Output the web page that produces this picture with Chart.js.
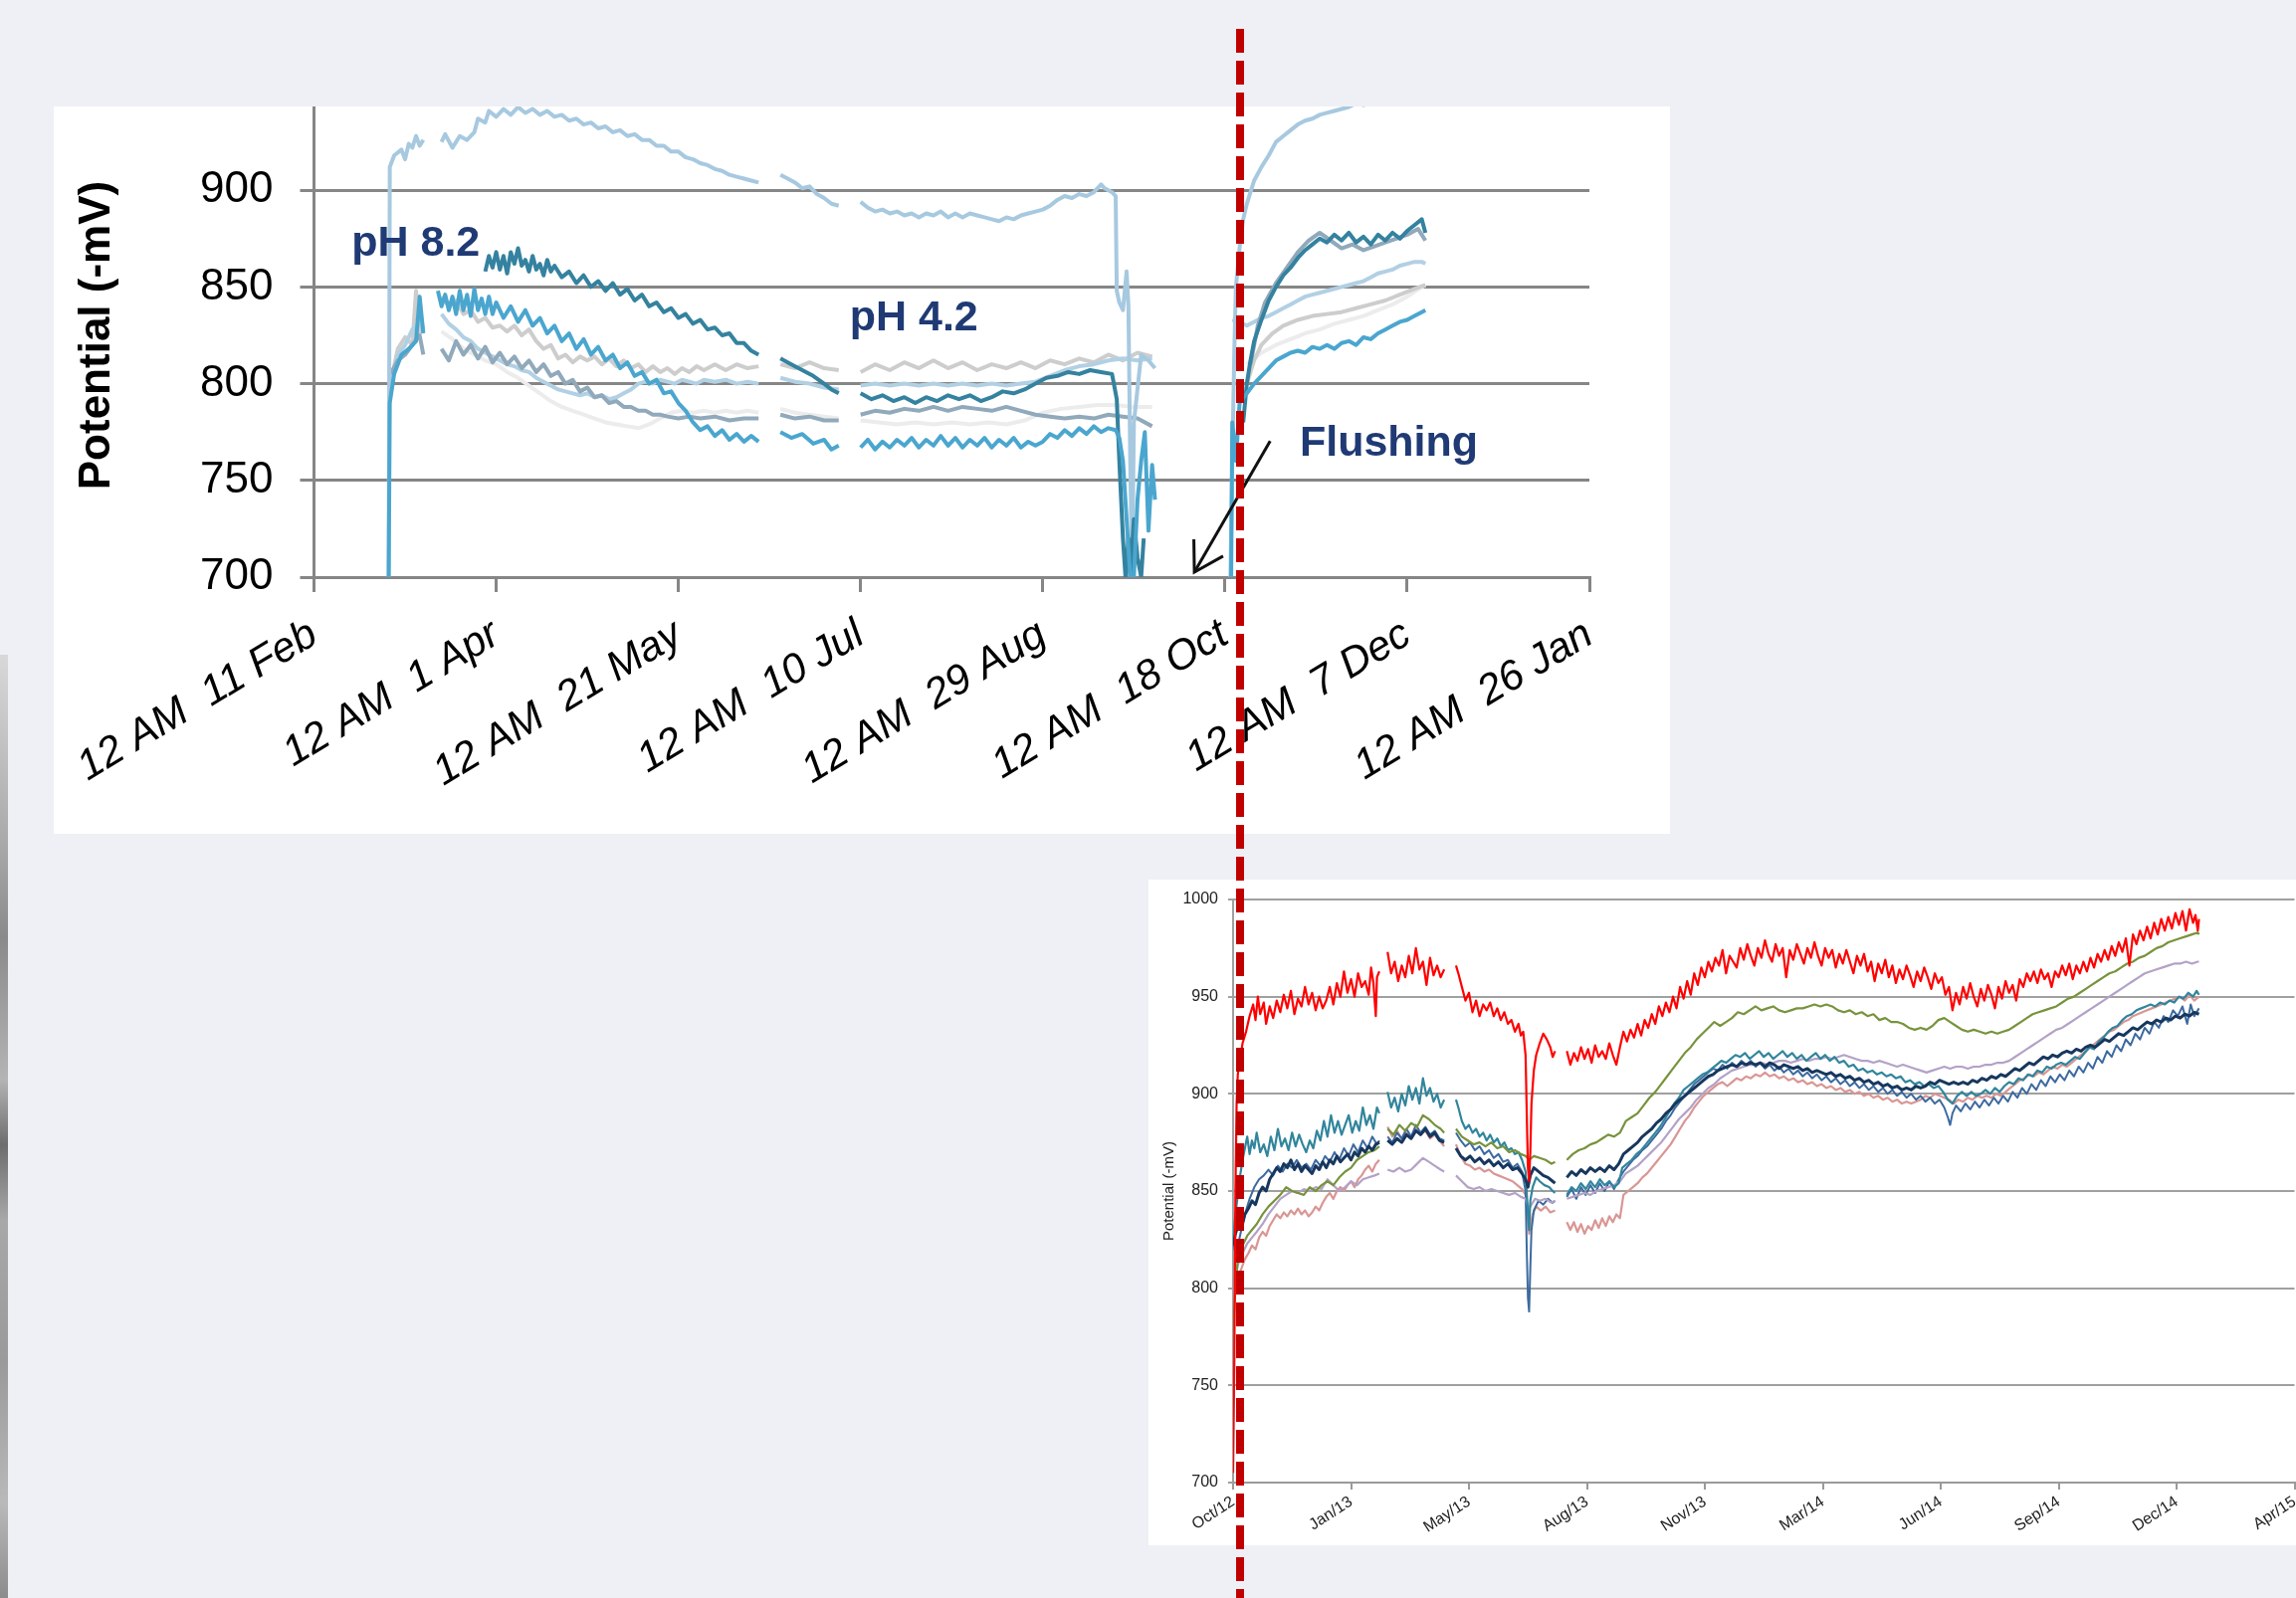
<!DOCTYPE html>
<html><head><meta charset="utf-8">
<script src="https://cdn.jsdelivr.net/npm/chart.js@4.4.1/dist/chart.umd.min.js"></script>
<style>
html,body{margin:0;padding:0;width:2307px;height:1606px;overflow:hidden;background:#eff0f5;}
#topBox{position:absolute;left:54px;top:107px;width:1624px;height:731px;background:#fff;overflow:hidden;}
#topC{position:absolute;left:0;top:-62px;}
#botBox{position:absolute;left:1154px;top:884px;width:1246px;height:669px;background:#fff;}
#strip{position:absolute;left:0;top:658px;width:8px;height:948px;background:linear-gradient(to bottom,#d8d8d8 0%,#a9a9a9 20%,#8a8a8a 30%,#b4b4b4 45%,#6d6d6d 52%,#a8a8a8 60%,#9a9a9a 75%,#b9b9b9 90%,#8c8c8c 100%);}
#dash{position:absolute;left:1242px;top:29px;width:8px;height:1577px;background:repeating-linear-gradient(to bottom,#c00000 0px,#c00000 24px,rgba(0,0,0,0) 24px,rgba(0,0,0,0) 32px);}
</style></head>
<body>
<div id="strip"></div>
<div id="topBox"><canvas id="topC" width="1624" height="794"></canvas></div>
<div id="botBox"><canvas id="botC" width="1246" height="669"></canvas></div>
<div id="dash"></div>
<script>
// ---------------- TOP CHART (2012, days since 11 Feb) ----------------
const topTickDays = [0,50,100,150,200,250,300,350];
const topTickLabels = ['12 AM  11 Feb','12 AM  1 Apr','12 AM  21 May','12 AM  10 Jul','12 AM  29 Aug','12 AM  18 Oct','12 AM  7 Dec','12 AM  26 Jan'];
const topYTicks = [700,750,800,850,900,950];

const topA = [20.5,700, 20.8,912, 22,918, 24,921, 25,916, 26,924, 27,922, 28,928, 29,923, 30,926, 31,null,
 35,925, 36,929, 38,922, 40,928, 42,926, 44,930, 45,937, 47,935, 48,941, 50,938, 52,942, 54,939, 56,943, 58,940, 60,942, 62,939, 64,941, 66,938, 68,939, 70,936, 72,937, 74,934, 76,935, 78,932, 80,933, 82,930, 84,931, 86,928, 88,929, 90,926, 92,926, 94,923, 96,923, 98,920, 100,920, 102,917, 104,916, 106,914, 108,913, 110,911, 112,910, 114,908, 116,907, 118,906, 120,905, 122,904, 123,null,
 128,908, 130,906, 132,904, 134,901, 136,902, 138,898, 140,896, 142,893, 144,892, 145,null,
 150,894, 152,891, 154,889, 156,890, 158,888, 160,889, 162,887, 164,888, 166,886, 168,888, 170,887, 172,889, 174,886, 176,888, 178,886, 180,888, 182,887, 184,886, 186,885, 188,884, 190,886, 192,885, 194,887, 196,888, 198,889, 200,890, 202,892, 204,895, 206,897, 208,896, 210,898, 212,897, 214,899, 216,903, 217,901, 218,900, 219,899, 220,897, 220.3,848, 221,842, 222,838, 223,858, 223.5,840, 224,760, 224.5,700, 225,780, 227,815, 229,812, 230.8,808, 231,null,
 251.5,700, 252,760, 252.6,820, 253,850, 254,870, 255,885, 256,893, 257,899, 258,905, 260,912, 262,918, 264,925, 266,928, 268,931, 270,934, 272,936, 274,937, 276,939, 278,940, 280,941, 282,942, 284,943, 286,945, 288,944, 290,946, 292,945, 294,947, 296,946, 298,948, 300,947, 302,948, 304,947, 305,946];
const topB = [47,858, 48,866, 49,860, 50,868, 51,859, 52,866, 53,857, 54,868, 55,862, 56,870, 57,861, 58,864, 59,858, 60,866, 61,859, 62,862, 63,856, 64,864, 65,858, 66,861, 68,855, 70,858, 72,852, 74,856, 76,850, 78,853, 80,848, 82,852, 84,846, 86,849, 88,843, 90,846, 92,840, 94,842, 96,837, 98,839, 100,834, 102,836, 104,831, 106,833, 108,828, 110,829, 112,825, 114,826, 116,821, 118,821, 120,817, 122,815, 123,null,
 128,813, 131,810, 134,807, 137,804, 140,800, 142,797, 144,795, 145,null,
 150,795, 153,792, 156,794, 159,791, 162,793, 165,790, 168,793, 171,791, 174,794, 177,792, 180,794, 183,791, 186,793, 189,796, 192,795, 195,797, 198,800, 201,803, 204,804, 207,806, 210,805, 213,807, 216,806, 219,805, 220.3,792, 221,760, 222,720, 222.7,700, 223.5,720, 224,700, 225,730, 226,710, 227,700, 227.7,720, 228,null,
 255,780, 256,800, 257,812, 258,822, 260,833, 262,843, 264,850, 266,856, 268,860, 270,865, 272,869, 274,872, 276,875, 278,873, 280,877, 282,874, 284,878, 286,873, 288,876, 290,872, 292,877, 294,874, 296,878, 298,875, 300,879, 302,882, 304,885, 305,878];
const topC = [20.5,700, 20.8,790, 22,805, 24,815, 26,818, 28,822, 29,845, 30,826, 31,null,
 34,848, 35,840, 36,846, 37,838, 38,845, 39,836, 40,848, 41,838, 42,846, 43,835, 44,849, 45,838, 46,844, 47,836, 48,845, 49,836, 50,842, 52,834, 54,840, 56,832, 58,838, 60,830, 62,834, 64,826, 66,830, 68,822, 70,826, 72,818, 74,823, 76,815, 78,819, 80,812, 82,815, 84,808, 86,811, 88,804, 90,806, 92,800, 94,802, 96,795, 98,796, 100,790, 102,786, 104,780, 106,776, 108,778, 110,773, 112,776, 114,771, 116,774, 118,770, 120,773, 122,770, 123,null,
 128,775, 131,772, 134,774, 137,769, 140,771, 142,766, 144,768, 145,null,
 150,767, 152,771, 154,766, 156,770, 158,767, 160,771, 162,768, 164,772, 166,767, 168,771, 170,768, 172,773, 174,768, 176,772, 178,767, 180,771, 182,768, 184,772, 186,767, 188,771, 190,768, 192,772, 194,767, 196,770, 198,768, 200,770, 202,774, 204,772, 206,776, 208,773, 210,777, 212,774, 214,778, 216,775, 218,777, 220,776, 221,772, 222,760, 223,730, 224,700, 225,700, 226,740, 227,760, 228,775, 229,724, 230,758, 230.8,740, 231,null,
 251.7,700, 252,780, 253,760, 254,790, 256,795, 258,800, 260,804, 262,808, 264,812, 266,814, 268,816, 270,817, 272,816, 274,819, 276,818, 278,820, 280,818, 282,821, 284,822, 286,820, 288,824, 290,823, 292,826, 294,828, 296,830, 298,832, 300,833, 302,835, 304,837, 305,838];
const topD = [21,800, 23,818, 25,824, 27,820, 28,848, 29,826, 30,830, 31,null,
 35,845, 37,840, 39,843, 41,836, 43,838, 45,832, 47,834, 49,829, 51,830, 53,827, 55,830, 57,825, 59,828, 61,822, 63,818, 65,820, 67,813, 69,815, 71,811, 73,814, 75,812, 77,814, 79,810, 81,813, 83,809, 85,812, 87,808, 89,810, 91,806, 93,809, 95,806, 97,808, 99,805, 101,808, 103,806, 105,809, 107,807, 110,810, 113,807, 116,810, 119,808, 122,809, 123,null,
 128,810, 132,808, 136,811, 140,808, 144,807, 145,null,
 150,806, 154,810, 158,807, 162,811, 166,808, 170,812, 174,808, 178,811, 182,807, 186,810, 190,808, 194,811, 198,808, 202,812, 206,810, 210,813, 214,811, 218,815, 222,812, 226,816, 230,814, 231,null,
 256,800, 258,812, 260,820, 263,826, 266,830, 270,833, 274,835, 278,836, 282,837, 286,839, 290,841, 294,843, 298,846, 302,849, 305,851];
const topE = [21,805, 23,812, 25,815, 27,820, 29,825, 30,815, 31,null,
 35,818, 37,812, 39,822, 41,815, 43,820, 45,813, 47,819, 49,811, 51,816, 53,810, 55,814, 57,808, 59,812, 61,806, 63,810, 65,804, 67,806, 69,800, 71,802, 73,796, 75,798, 77,793, 79,794, 81,790, 83,791, 85,788, 87,788, 89,786, 91,786, 93,784, 95,784, 97,783, 100,782, 103,783, 106,782, 110,783, 114,781, 118,782, 122,782, 123,null,
 128,784, 132,782, 136,783, 140,781, 144,781, 145,null,
 150,784, 154,786, 158,785, 162,787, 166,786, 170,788, 174,786, 178,788, 182,787, 186,786, 190,788, 194,786, 198,784, 202,783, 206,782, 210,783, 214,782, 218,784, 222,783, 226,782, 230,778, 231,null,
 257,810, 259,830, 261,842, 264,852, 267,860, 270,868, 273,874, 276,878, 279,874, 282,870, 285,872, 288,869, 291,871, 294,873, 297,875, 300,877, 303,880, 305,874];
const topF = [21,798, 23,815, 25,820, 27,828, 29,832, 30,830, 31,null,
 35,836, 37,831, 39,828, 41,824, 43,822, 45,818, 47,816, 49,814, 51,812, 53,810, 55,809, 57,807, 59,806, 61,803, 63,801, 65,799, 67,797, 69,796, 71,795, 73,794, 75,795, 77,793, 79,794, 81,792, 83,793, 85,795, 87,797, 89,800, 91,801, 93,800, 95,802, 97,801, 99,800, 101,802, 103,801, 105,800, 107,802, 110,801, 113,802, 116,800, 119,801, 122,800, 123,null,
 128,803, 132,801, 136,800, 140,798, 144,797, 145,null,
 150,799, 154,800, 158,799, 162,800, 166,799, 170,800, 174,799, 178,800, 182,799, 186,800, 190,799, 194,800, 198,801, 202,804, 206,807, 210,809, 214,810, 218,812, 222,813, 226,812, 230,813, 231,null,
 252,833, 254,832, 256,830, 258,832, 260,834, 262,835, 264,837, 266,839, 268,841, 270,843, 272,845, 274,846, 276,847, 278,848, 280,849, 282,850, 284,851, 286,852, 288,853, 290,855, 292,857, 294,858, 296,859, 298,861, 300,862, 302,863, 304,863, 305,862];
const topG = [35,827, 38,823, 41,818, 44,815, 47,812, 50,810, 53,806, 56,803, 59,799, 62,795, 65,791, 68,788, 71,786, 74,784, 77,782, 80,780, 83,779, 86,778, 89,777, 92,779, 95,782, 98,785, 101,786, 104,785, 107,786, 110,785, 113,786, 116,785, 119,786, 122,785, 123,null,
 128,787, 132,785, 136,784, 140,783, 144,782, 145,null,
 150,781, 155,780, 160,779, 165,780, 170,779, 175,780, 180,779, 185,780, 190,779, 195,781, 200,785, 205,787, 210,788, 215,789, 220,789, 225,788, 230,788, 231,null,
 256,810, 260,816, 264,820, 268,823, 272,826, 276,828, 280,831, 284,833, 288,835, 292,838, 296,841, 300,845, 304,850, 305,851];

const topNotes = [
  {text:'pH 8.2', day:10.3, mv:866},
  {text:'pH 4.2', day:147, mv:827.5},
  {text:'Flushing', day:270.5, mv:762.7}
];
const arrowTail = {day:262.4, mv:770.4};
const arrowTip = {day:241.6, mv:702.6};

// ---------------- BOTTOM CHART (days since mid-Oct 2012) ----------------
const botTickDays = [0,100,200,300,400,500,600,700,800,900];
const botTickLabels = ['Oct/12','Jan/13','May/13','Aug/13','Nov/13','Mar/14','Jun/14','Sep/14','Dec/14','Apr/15'];
const botYTicks = [700,750,800,850,900,950,1000];

const redPts = [0,705, 1,760, 2,850, 3,895, 4,910, 6,918, 8,926, 11,932, 14,940, 17,946, 19,938, 21,950, 23,941, 26,947, 28,936, 31,945, 34,939, 37,948, 40,942, 43,951, 46,944, 49,953, 52,941, 55,949, 58,945, 61,955, 64,946, 67,952, 70,943, 73,950, 76,944, 79,948, 82,955, 85,946, 88,957, 91,950, 94,963, 97,952, 100,959, 103,950, 106,962, 109,955, 112,958, 115,951, 117,965, 119,957, 121,940, 122,960, 124,963, 125,null,
 131,973, 134,962, 137,968, 140,958, 143,966, 146,960, 149,971, 152,962, 155,975, 158,964, 161,968, 164,956, 167,970, 170,961, 173,966, 176,960, 179,964, 181,null,
 189,966, 191,962, 194,955, 197,948, 200,952, 203,942, 206,948, 209,940, 212,946, 215,943, 218,947, 221,940, 224,944, 227,938, 230,942, 233,936, 236,938, 239,932, 242,936, 244,930, 246,932, 248,920, 249,890, 250,862, 251,855, 252,870, 253,895, 255,912, 257,920, 260,926, 263,931, 266,928, 269,924, 271,919, 273,922, 274,null,
 283,922, 286,915, 289,921, 292,917, 295,924, 298,918, 301,923, 304,916, 307,925, 310,919, 313,922, 316,918, 319,926, 322,920, 325,915, 328,924, 331,932, 334,927, 337,933, 340,929, 343,936, 346,930, 349,938, 352,934, 355,941, 358,936, 361,945, 364,940, 367,947, 370,942, 373,950, 376,944, 379,955, 382,949, 385,958, 388,951, 391,962, 394,956, 397,965, 400,960, 403,968, 406,963, 409,970, 412,966, 415,974, 418,962, 421,971, 424,968, 427,965, 430,975, 433,969, 436,977, 439,971, 442,966, 445,975, 448,970, 451,979, 454,972, 457,968, 460,977, 463,971, 466,975, 469,960, 472,974, 475,969, 478,977, 481,972, 484,967, 487,975, 490,970, 493,978, 496,971, 499,966, 502,975, 505,970, 508,974, 511,965, 514,972, 517,967, 520,974, 523,968, 526,962, 529,971, 532,966, 535,972, 538,963, 541,968, 544,958, 547,967, 550,962, 553,969, 556,960, 559,966, 562,957, 565,964, 568,959, 571,966, 574,961, 577,955, 580,963, 583,958, 586,965, 589,960, 592,954, 595,962, 598,957, 601,960, 604,951, 607,955, 610,943, 613,952, 616,946, 619,955, 622,949, 625,957, 628,950, 631,945, 634,954, 637,948, 640,956, 643,951, 646,944, 649,955, 652,949, 655,958, 658,952, 661,956, 664,948, 667,959, 670,955, 673,962, 676,958, 679,963, 682,957, 685,964, 688,959, 691,962, 694,955, 697,963, 700,960, 703,966, 706,961, 709,967, 712,959, 715,966, 718,962, 721,968, 724,963, 727,970, 730,965, 733,972, 736,968, 739,974, 742,969, 745,976, 748,971, 751,978, 754,973, 757,980, 760,966, 763,982, 766,977, 769,984, 772,979, 775,986, 778,980, 781,988, 784,982, 787,990, 790,984, 793,991, 796,985, 799,993, 802,987, 805,994, 808,984, 811,995, 814,988, 816,992, 818,984, 819,990];
const greenPts = [0,778, 2,800, 4,815, 8,822, 12,827, 16,830, 20,833, 25,838, 30,842, 35,845, 40,848, 45,852, 50,850, 55,849, 60,848, 65,852, 70,850, 75,853, 80,855, 85,853, 90,857, 95,860, 100,862, 105,866, 110,868, 115,870, 120,871, 124,873, 125,null,
 131,882, 136,879, 141,884, 146,881, 151,885, 156,883, 161,889, 166,887, 171,884, 176,882, 179,880, 181,null,
 189,882, 194,878, 199,876, 204,874, 209,875, 214,873, 219,875, 224,872, 229,873, 234,870, 239,871, 244,869, 248,868, 251,866, 255,868, 260,867, 265,866, 270,864, 273,865, 274,null,
 283,866, 288,869, 293,871, 298,872, 303,874, 308,875, 313,877, 318,879, 323,878, 328,880, 333,886, 338,888, 343,890, 348,894, 353,898, 358,901, 363,905, 368,909, 373,913, 378,917, 383,921, 388,924, 393,928, 398,931, 403,934, 408,937, 413,935, 418,937, 423,939, 428,942, 433,941, 438,943, 443,945, 448,943, 453,944, 458,945, 463,943, 468,942, 473,943, 478,944, 483,944, 488,945, 493,946, 498,945, 503,946, 508,945, 513,943, 518,942, 523,943, 528,941, 533,942, 538,940, 543,941, 548,938, 553,939, 558,937, 563,937, 568,936, 573,934, 578,933, 583,934, 588,933, 593,935, 598,938, 603,939, 608,937, 613,935, 618,933, 623,932, 628,933, 633,932, 638,931, 643,932, 648,931, 653,932, 658,933, 663,935, 668,937, 673,939, 678,941, 683,942, 688,943, 693,944, 698,945, 703,947, 708,949, 713,950, 718,952, 723,954, 728,956, 733,958, 738,960, 743,962, 748,963, 753,965, 758,967, 763,968, 768,970, 773,971, 778,973, 783,975, 788,976, 793,978, 798,979, 803,980, 808,981, 813,982, 818,983, 819,982];
const lavPts = [0,793, 2,805, 4,812, 8,818, 12,823, 16,826, 20,829, 25,833, 30,838, 35,842, 40,846, 45,848, 50,850, 55,849, 60,851, 65,850, 70,852, 75,851, 80,856, 85,853, 90,850, 95,852, 100,855, 105,853, 110,856, 115,857, 120,858, 124,859, 125,null,
 131,861, 136,860, 141,862, 146,860, 151,861, 156,864, 161,867, 166,865, 171,863, 176,861, 179,860, 181,null,
 189,858, 194,855, 199,852, 204,851, 209,852, 214,850, 219,851, 224,850, 229,849, 234,848, 239,849, 244,847, 248,846, 251,841, 253,843, 256,846, 260,845, 265,846, 270,844, 273,845, 274,null,
 283,846, 288,847, 293,848, 298,849, 303,848, 308,850, 313,851, 318,852, 323,853, 328,855, 333,859, 338,861, 343,863, 348,866, 353,869, 358,872, 363,875, 368,879, 373,883, 378,887, 383,890, 388,893, 393,897, 398,900, 403,903, 408,905, 413,908, 418,910, 423,912, 428,913, 433,914, 438,915, 443,915, 448,916, 453,915, 458,916, 463,917, 468,917, 473,916, 478,917, 483,918, 488,917, 493,918, 498,918, 503,919, 508,918, 513,919, 518,920, 523,919, 528,918, 533,917, 538,917, 543,916, 548,917, 553,916, 558,915, 563,914, 568,915, 573,914, 578,913, 583,912, 588,911, 593,912, 598,913, 603,914, 608,913, 613,914, 618,914, 623,913, 628,914, 633,914, 638,915, 643,915, 648,916, 653,916, 658,917, 663,919, 668,921, 673,923, 678,925, 683,927, 688,929, 693,931, 698,933, 703,934, 708,936, 713,938, 718,940, 723,942, 728,944, 733,946, 738,948, 743,950, 748,952, 753,954, 758,956, 763,958, 768,960, 773,962, 778,963, 783,964, 788,965, 793,966, 798,967, 803,967, 808,968, 813,967, 818,968, 819,968];
const tealPts = [0,826, 2,838, 4,848, 6,858, 8,866, 10,872, 12,878, 14,869, 16,876, 18,872, 20,880, 23,870, 26,874, 29,868, 32,878, 35,871, 38,882, 41,873, 44,877, 47,871, 50,880, 53,873, 56,879, 59,874, 62,870, 65,876, 68,872, 71,881, 74,876, 77,886, 80,878, 83,889, 86,880, 89,886, 92,879, 95,884, 98,889, 101,880, 104,886, 107,881, 110,893, 113,884, 116,889, 119,882, 122,893, 124,890, 125,null,
 131,901, 134,893, 137,898, 140,891, 143,900, 146,894, 149,904, 152,897, 155,903, 158,895, 161,908, 164,899, 167,903, 170,896, 173,900, 176,893, 179,897, 181,null,
 189,897, 191,893, 194,886, 197,882, 200,884, 203,880, 206,882, 209,878, 212,880, 215,876, 218,879, 221,875, 224,877, 227,873, 230,875, 233,871, 236,872, 239,869, 242,870, 245,866, 248,860, 250,838, 251,830, 252,845, 254,852, 257,857, 260,855, 264,853, 268,852, 271,850, 273,849, 274,null,
 283,848, 287,852, 291,850, 295,854, 299,851, 303,855, 307,852, 311,856, 315,853, 319,855, 323,852, 327,854, 330,862, 334,864, 338,866, 342,869, 346,871, 350,874, 354,877, 358,880, 362,883, 366,887, 370,891, 374,895, 378,898, 382,902, 386,904, 390,906, 394,908, 398,910, 402,911, 406,913, 410,915, 414,917, 418,916, 422,918, 426,920, 430,919, 434,921, 438,918, 442,920, 446,922, 450,919, 454,921, 458,918, 462,920, 466,922, 470,919, 474,921, 478,918, 482,920, 486,917, 490,919, 494,921, 498,918, 502,920, 506,917, 510,919, 514,916, 518,917, 522,914, 526,915, 530,912, 534,913, 538,911, 542,912, 546,910, 550,911, 554,909, 558,910, 562,908, 566,909, 570,906, 574,907, 578,905, 582,906, 586,904, 590,905, 594,903, 598,904, 602,901, 606,897, 610,895, 614,899, 618,901, 622,899, 626,901, 630,899, 634,900, 638,902, 642,900, 646,903, 650,901, 654,904, 658,906, 662,905, 666,908, 670,907, 674,910, 678,909, 682,912, 686,911, 690,914, 694,913, 698,915, 702,916, 706,915, 710,917, 714,919, 718,918, 722,921, 726,924, 730,923, 734,927, 738,929, 742,932, 746,934, 750,935, 754,938, 758,940, 762,941, 766,943, 770,944, 774,945, 778,946, 782,945, 786,947, 790,946, 794,948, 798,947, 802,950, 806,949, 810,952, 814,950, 817,953, 819,951];
const navyPts = [0,822, 2,828, 4,832, 6,835, 8,833, 10,838, 13,841, 16,845, 19,843, 22,849, 25,852, 28,850, 31,856, 34,859, 37,862, 40,860, 43,864, 46,862, 49,866, 52,861, 55,864, 58,860, 61,863, 64,861, 67,859, 70,863, 73,861, 76,865, 79,862, 82,866, 85,864, 88,868, 91,865, 94,867, 97,869, 100,866, 103,870, 106,868, 109,872, 112,870, 115,873, 118,871, 121,874, 124,875, 125,null,
 131,876, 135,874, 139,877, 143,875, 147,879, 151,877, 155,881, 159,879, 163,882, 167,878, 171,880, 175,876, 179,875, 181,null,
 189,872, 193,868, 197,866, 201,868, 205,865, 209,867, 213,864, 217,866, 221,863, 225,865, 229,862, 233,864, 237,861, 241,862, 245,859, 248,856, 250,852, 252,858, 255,862, 259,860, 263,858, 267,857, 271,855, 273,854, 274,null,
 283,857, 287,860, 291,858, 295,861, 299,859, 303,862, 307,860, 311,862, 315,860, 319,863, 323,861, 327,864, 331,869, 335,871, 339,873, 343,875, 347,878, 351,880, 355,882, 359,885, 363,887, 367,890, 371,892, 375,895, 379,897, 383,899, 387,901, 391,903, 395,905, 399,907, 403,909, 407,910, 411,912, 415,913, 419,914, 423,915, 427,914, 431,916, 435,915, 439,916, 443,915, 447,916, 451,914, 455,916, 459,915, 463,913, 467,915, 471,914, 475,913, 479,914, 483,912, 487,913, 491,911, 495,912, 499,911, 503,910, 507,911, 511,909, 515,910, 519,908, 523,909, 527,907, 531,908, 535,906, 539,907, 543,905, 547,906, 551,904, 555,905, 559,903, 563,904, 567,902, 571,903, 575,902, 579,904, 583,903, 587,904, 591,906, 595,905, 599,907, 603,906, 607,905, 611,906, 615,905, 619,906, 623,905, 627,907, 631,906, 635,908, 639,907, 643,909, 647,908, 651,910, 655,909, 659,911, 663,913, 667,912, 671,914, 675,916, 679,915, 683,917, 687,919, 691,918, 695,920, 699,919, 703,921, 707,922, 711,921, 715,923, 719,922, 723,924, 727,925, 731,924, 735,926, 739,928, 743,927, 747,929, 751,931, 755,930, 759,932, 763,934, 767,933, 771,935, 775,937, 779,936, 783,938, 787,937, 791,939, 795,938, 799,940, 803,939, 807,941, 811,940, 815,942, 819,941];
const steelPts = [0,824, 2,818, 4,822, 7,830, 10,838, 14,846, 18,852, 22,856, 26,858, 30,861, 34,858, 38,863, 42,860, 46,864, 50,862, 54,866, 58,862, 62,864, 66,861, 70,866, 74,863, 78,868, 82,865, 86,870, 90,866, 94,872, 98,868, 102,874, 106,870, 110,876, 114,872, 118,878, 122,874, 124,876, 125,null,
 131,878, 135,875, 139,880, 143,877, 147,882, 151,878, 155,884, 159,880, 163,883, 167,879, 171,881, 175,877, 179,876, 181,null,
 189,880, 193,876, 197,873, 201,875, 205,871, 209,873, 213,869, 217,871, 221,867, 225,869, 229,865, 233,866, 237,862, 241,864, 245,860, 248,850, 249,820, 250,795, 251,788, 252,810, 253,830, 255,840, 259,845, 263,843, 267,846, 271,844, 273,845, 274,null,
 283,847, 287,851, 291,846, 295,852, 299,848, 303,853, 307,849, 311,854, 315,850, 319,855, 323,851, 327,856, 331,860, 335,863, 339,866, 343,868, 347,871, 351,873, 355,876, 359,879, 363,882, 367,886, 371,889, 375,893, 379,896, 383,899, 387,902, 391,905, 395,907, 399,909, 403,911, 407,913, 411,912, 415,915, 419,913, 423,916, 427,914, 431,917, 435,915, 439,917, 443,914, 447,916, 451,913, 455,915, 459,912, 463,914, 467,911, 471,913, 475,910, 479,912, 483,909, 487,911, 491,908, 495,910, 499,907, 503,909, 507,906, 511,908, 515,905, 519,907, 523,904, 527,906, 531,903, 535,905, 539,902, 543,904, 547,901, 551,903, 555,900, 559,902, 563,899, 567,901, 571,898, 575,900, 579,897, 583,899, 587,896, 591,898, 595,895, 599,897, 603,893, 606,888, 608,884, 610,890, 613,894, 617,891, 621,895, 625,892, 629,896, 633,893, 637,897, 641,894, 645,898, 649,895, 653,899, 657,896, 661,901, 665,898, 669,903, 673,900, 677,905, 681,902, 685,907, 689,904, 693,909, 697,906, 701,910, 705,907, 709,912, 713,909, 717,914, 721,911, 725,916, 729,913, 733,919, 737,916, 741,922, 745,919, 749,925, 753,922, 757,928, 761,925, 765,931, 769,928, 773,934, 777,931, 781,937, 785,934, 789,940, 793,937, 797,943, 801,940, 805,945, 809,936, 812,946, 815,940, 819,944];
const salmonPts = [0,790, 2,800, 4,806, 7,810, 10,815, 13,818, 16,822, 19,820, 22,826, 25,829, 28,827, 31,832, 34,835, 37,838, 40,836, 43,839, 46,837, 49,840, 52,838, 55,841, 58,838, 61,840, 64,837, 67,839, 70,842, 73,840, 76,844, 79,847, 82,849, 85,846, 88,850, 91,852, 94,850, 97,853, 100,855, 103,852, 106,856, 109,858, 112,861, 115,863, 118,860, 121,864, 124,866, 125,null,
 131,883, 135,878, 139,881, 143,877, 147,880, 151,878, 155,882, 159,879, 163,881, 167,877, 171,879, 175,876, 179,873, 181,null,
 189,874, 193,868, 197,864, 201,863, 205,861, 209,862, 213,860, 217,861, 221,859, 225,858, 229,857, 233,856, 237,855, 241,853, 245,851, 248,848, 250,835, 251,828, 252,832, 254,838, 257,842, 261,840, 265,842, 269,839, 273,840, 274,null,
 283,834, 286,830, 289,834, 292,829, 295,833, 298,828, 301,832, 304,830, 307,835, 310,831, 313,836, 316,832, 319,837, 322,834, 325,838, 328,836, 331,848, 335,850, 339,852, 343,854, 347,857, 351,859, 355,862, 359,865, 363,868, 367,871, 371,874, 375,878, 379,882, 383,886, 387,889, 391,893, 395,896, 399,899, 403,901, 407,903, 411,905, 415,906, 419,904, 423,906, 427,908, 431,907, 435,909, 439,908, 443,910, 447,909, 451,911, 455,909, 459,910, 463,908, 467,909, 471,907, 475,908, 479,906, 483,907, 487,905, 491,906, 495,904, 499,905, 503,903, 507,904, 511,902, 515,903, 519,901, 523,902, 527,900, 531,901, 535,899, 539,900, 543,898, 547,899, 551,897, 555,898, 559,896, 563,897, 567,895, 571,896, 575,895, 579,896, 583,897, 587,899, 591,898, 595,900, 599,899, 603,898, 607,897, 611,895, 615,897, 619,896, 623,898, 627,897, 631,899, 635,898, 639,899, 643,898, 647,900, 651,899, 655,901, 659,903, 663,905, 667,907, 671,908, 675,910, 679,909, 683,911, 687,910, 691,912, 695,914, 699,913, 703,915, 707,914, 711,916, 715,918, 719,920, 723,922, 727,924, 731,926, 735,928, 739,930, 743,932, 747,933, 751,935, 755,937, 759,938, 763,940, 767,941, 771,942, 775,943, 779,944, 783,945, 787,946, 791,947, 795,948, 799,949, 803,950, 807,948, 811,951, 815,948, 819,950];

// ---------------- helpers ----------------
function pairs(flat){ const out=[]; for(let i=0;i<flat.length;i+=2){ out.push([flat[i], flat[i+1]]); } return out; }
function ds(flat, color, w){ return {data:pairs(flat), borderColor:color, borderWidth:w, pointRadius:0, fill:false, tension:0, spanGaps:false, borderJoinStyle:'round'}; }

const SANS = "'Liberation Sans',Arial,sans-serif";

const topAnnot = {
  id:'topAnnot',
  afterDatasetsDraw(chart){
    const {ctx} = chart; const x = chart.scales.x, y = chart.scales.y;
    ctx.save();
    ctx.fillStyle = '#1f3a74';
    ctx.font = 'bold 43px ' + SANS;
    ctx.textBaseline = 'alphabetic'; ctx.textAlign = 'left';
    topNotes.forEach(n => ctx.fillText(n.text, x.getPixelForValue(n.day), y.getPixelForValue(n.mv)));
    const tx = x.getPixelForValue(arrowTail.day), ty = y.getPixelForValue(arrowTail.mv);
    const hx = x.getPixelForValue(arrowTip.day), hy = y.getPixelForValue(arrowTip.mv);
    ctx.strokeStyle = '#111'; ctx.lineWidth = 3; ctx.lineCap = 'butt';
    ctx.beginPath(); ctx.moveTo(tx,ty); ctx.lineTo(hx,hy); ctx.stroke();
    const ang = Math.atan2(ty-hy, tx-hx), L = 33, spread = 0.54;
    ctx.beginPath();
    ctx.moveTo(hx + L*Math.cos(ang-spread), hy + L*Math.sin(ang-spread)); ctx.lineTo(hx,hy);
    ctx.lineTo(hx + L*Math.cos(ang+spread), hy + L*Math.sin(ang+spread));
    ctx.stroke();
    ctx.restore();
  }
};

new Chart(document.getElementById('topC'), {
  type:'line',
  data:{ datasets:[
    ds(topC,'#4aa6cf',4), ds(topB,'#34829f',4), ds(topA,'#a7c9e0',4), ds(topE,'#90a9bb',4),
    ds(topF,'#b2d0e4',4), ds(topD,'#cdcdcd',4), ds(topG,'#ececec',4)
  ]},
  options:{
    responsive:false, devicePixelRatio:1, animation:false, events:[],
    layout:{padding:{top:0,right:81,left:0,bottom:0}},
    plugins:{legend:{display:false}, tooltip:{enabled:false}},
    scales:{
      x:{type:'linear', min:0, max:350,
        afterBuildTicks:s=>{ s.ticks = topTickDays.map(v=>({value:v})); },
        afterFit:s=>{ s.height = 259; },
        grid:{drawOnChartArea:false, color:'#868686', lineWidth:3, tickLength:15},
        border:{color:'#868686', width:3},
        ticks:{autoSkip:false, maxRotation:31, minRotation:31, padding:18, color:'#000',
          font:{family:SANS, size:42, style:'italic'},
          callback:(v)=>topTickLabels[topTickDays.indexOf(v)]}
      },
      y:{type:'linear', min:700, max:950,
        afterBuildTicks:s=>{ s.ticks = topYTicks.map(v=>({value:v})); },
        afterFit:s=>{ s.width = 261.5; },
        grid:{color:'#868686', lineWidth:3, tickLength:14},
        border:{color:'#868686', width:3},
        ticks:{padding:27, color:'#000', font:{family:SANS, size:44, lineHeight:1}},
        title:{display:true, text:'Potential (-mV)', color:'#000', padding:{top:17,bottom:0},
          font:{family:SANS, size:44, weight:'bold', lineHeight:1.2}}
      }
    }
  },
  plugins:[topAnnot]
});

new Chart(document.getElementById('botC'), {
  type:'line',
  data:{ datasets:[
    ds(redPts,'#ff0000',2.2), ds(navyPts,'#17375e',3), ds(greenPts,'#77933c',2.2), ds(tealPts,'#31859c',2.2),
    ds(lavPts,'#b3a2c7',2.2), ds(steelPts,'#3c6aa0',2), ds(salmonPts,'#d99694',2.2)
  ]},
  options:{
    responsive:false, devicePixelRatio:1, animation:false, events:[],
    layout:{padding:{top:20,right:94.5,left:0,bottom:0}},
    plugins:{legend:{display:false}, tooltip:{enabled:false}},
    scales:{
      x:{type:'linear', min:0, max:900,
        afterBuildTicks:s=>{ s.ticks = botTickDays.map(v=>({value:v})); },
        afterFit:s=>{ s.height = 63; },
        grid:{drawOnChartArea:false, color:'#9a9a9a', lineWidth:2, tickLength:7},
        border:{color:'#9a9a9a', width:2},
        ticks:{autoSkip:false, maxRotation:33, minRotation:33, padding:3, color:'#222',
          font:{family:SANS, size:16}, callback:(v)=>botTickLabels[botTickDays.indexOf(v)]}
      },
      y:{type:'linear', min:700, max:1000,
        afterBuildTicks:s=>{ s.ticks = botYTicks.map(v=>({value:v})); },
        afterFit:s=>{ s.width = 85; },
        grid:{color:'#a0a0a0', lineWidth:2, tickLength:5},
        border:{color:'#a0a0a0', width:2},
        ticks:{padding:10, color:'#222', font:{family:SANS, size:16, lineHeight:1}, callback:(v)=>String(v)},
        title:{display:true, text:'Potential (-mV)', color:'#222', padding:{top:12,bottom:0},
          font:{family:SANS, size:15, lineHeight:1.2}}
      }
    }
  }
});
</script>
</body></html>
